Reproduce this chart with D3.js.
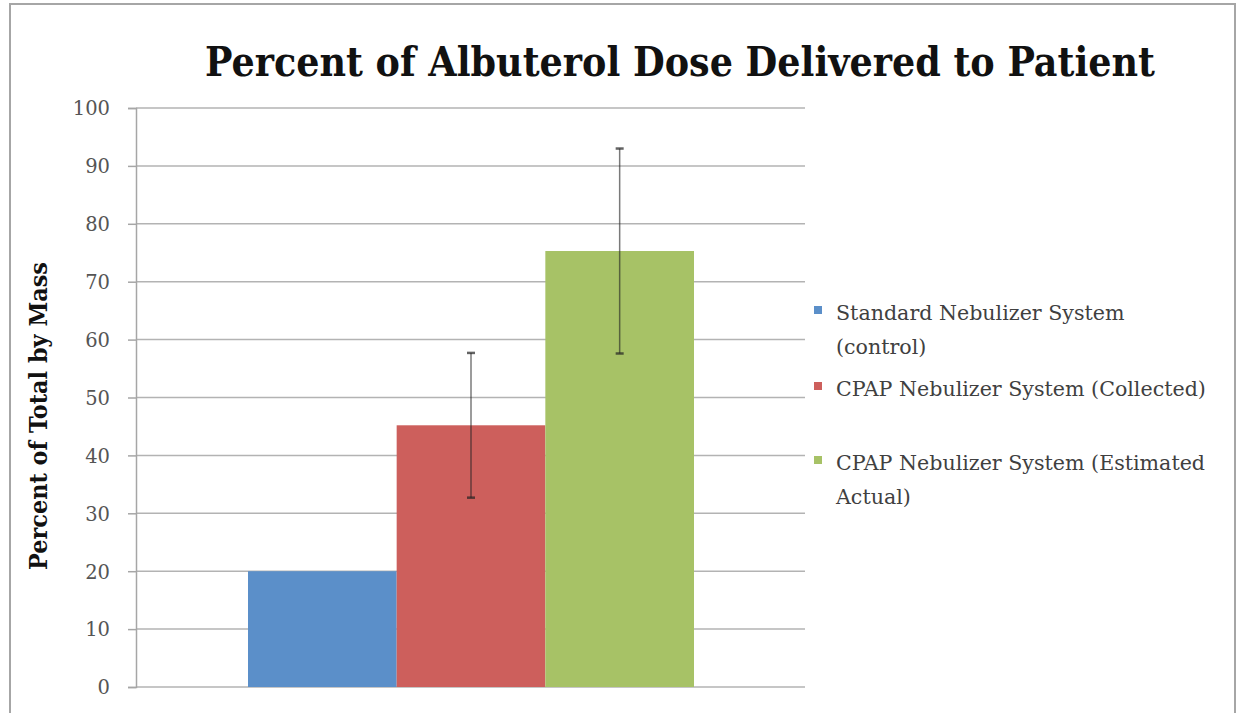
<!DOCTYPE html>
<html>
<head>
<meta charset="utf-8">
<script src="https://cdn.jsdelivr.net/npm/d3@7"></script>
<style>
  body { margin: 0; background: #fff; }
</style>
</head>
<body>
<div class="container"></div>
<script>
// chart data
var seriesNames = ['Standard Nebulizer System (control)', 'CPAP Nebulizer System (Collected)', 'CPAP Nebulizer System (Estimated Actual)'];
var seriesValues = [20, 45.2, 75.3];
var seriesErrors = [0, 12.5, 17.7];
var seriesColors = ['#5b8fc9', '#cd5f5c', '#a7c266'];
var legendLines = [['Standard Nebulizer System', '(control)'], ['CPAP Nebulizer System (Collected)'], ['CPAP Nebulizer System (Estimated', 'Actual)']];
var yTicks = [0, 10, 20, 30, 40, 50, 60, 70, 80, 90, 100];

const WIDTH = 1239;
const HEIGHT = 713;
const PLOT = {left: 136, right: 805, top: 108, bottom: 687};
const SERIF = '"DejaVu Serif", serif';
const BOLD_SERIF = '"DejaVu Serif Condensed", "DejaVu Serif", serif';

var svg = d3.select('.container').append('svg')
	.attr('width', WIDTH)
	.attr('height', HEIGHT);

// outer frame
svg.append('rect')
	.attr('x', 10).attr('y', 4)
	.attr('width', 1225).attr('height', 716)
	.attr('fill', '#fff')
	.attr('stroke', '#a6a6a6').attr('stroke-width', 2);

// fit a text element to a target width by adjusting its font size
var fitWidth = function(sel, size, target){
	sel.attr('font-size', size);
	var w = sel.node().getComputedTextLength();
	var s = size * target / w;
	sel.attr('font-size', s);
	return s;
}

var xScale = d3.scaleBand()
	.domain(seriesNames)
	.range([248, 694]);

var yScale = d3.scaleLinear()
	.domain([0, 100])
	.range([PLOT.bottom, PLOT.top]);

// gridlines
svg.append('g').selectAll('line').data(yTicks)
	.enter().append('line')
	.attr('x1', PLOT.left).attr('x2', PLOT.right)
	.attr('y1', function(d){return yScale(d)})
	.attr('y2', function(d){return yScale(d)})
	.attr('stroke', '#b3b3b3').attr('stroke-width', 1.5);

// y axis
var yAxis = d3.axisLeft(yScale).tickValues(yTicks).tickSize(8).tickPadding(18);
var yG = svg.append('g')
	.attr('transform', 'translate(' + PLOT.left + ',0)')
	.call(yAxis);
yG.select('.domain').attr('stroke', '#a6a6a6').attr('stroke-width', 1.5);
yG.selectAll('.tick line').attr('stroke', '#a6a6a6').attr('stroke-width', 1.5);
yG.selectAll('.tick text')
	.attr('fill', '#555')
	.style('font-family', SERIF)
	.style('font-size', '19.5px')
	.attr('dy', '0.35em');

// bars
svg.append('g').selectAll('rect').data(seriesNames)
	.enter().append('rect')
	.attr('x', function(d){return xScale(d)})
	.attr('width', xScale.bandwidth())
	.attr('y', function(d, i){return yScale(seriesValues[i])})
	.attr('height', function(d, i){return yScale(0) - yScale(seriesValues[i])})
	.attr('fill', function(d, i){return seriesColors[i]});

// error bars
var errG = svg.append('g').selectAll('g').data(seriesNames)
	.enter().append('g')
	.filter(function(d, i){return seriesErrors[i] > 0});
errG.each(function(d){
	var i = seriesNames.indexOf(d);
	var cx = xScale(d) + xScale.bandwidth() / 2;
	var lo = yScale(seriesValues[i] - seriesErrors[i]);
	var hi = yScale(seriesValues[i] + seriesErrors[i]);
	var g = d3.select(this);
	g.append('line').attr('x1', cx).attr('x2', cx).attr('y1', hi).attr('y2', lo)
		.attr('stroke', '#222').attr('stroke-opacity', 0.6).attr('stroke-width', 1.5);
	[hi, lo].forEach(function(y){
		g.append('line').attr('x1', cx - 4).attr('x2', cx + 4).attr('y1', y).attr('y2', y)
			.attr('stroke', '#222').attr('stroke-opacity', 0.7).attr('stroke-width', 2.5);
	});
});

// title
var title = svg.append('text')
	.attr('x', 680).attr('y', 76)
	.attr('text-anchor', 'middle')
	.attr('font-family', BOLD_SERIF)
	.attr('font-stretch', 'condensed')
	.attr('font-weight', 'bold')
	.attr('fill', '#111')
	.text('Percent of Albuterol Dose Delivered to Patient');
fitWidth(title, 40, 950);

// y axis title
var yTitle = svg.append('text')
	.attr('transform', 'translate(47,416) rotate(-90)')
	.attr('text-anchor', 'middle')
	.attr('font-family', BOLD_SERIF)
	.attr('font-stretch', 'condensed')
	.attr('font-weight', 'bold')
	.attr('fill', '#111')
	.text('Percent of Total by Mass');
fitWidth(yTitle, 17, 308);

// legend
var legendTop = [320, 396, 470];
var legend = svg.append('g').selectAll('g').data(seriesNames)
	.enter().append('g');
legend.append('rect')
	.attr('x', 814).attr('width', 8).attr('height', 8)
	.attr('y', function(d, i){return legendTop[i] - 14})
	.attr('fill', function(d, i){return seriesColors[i]});
var legendText = legend.append('text')
	.attr('font-family', SERIF)
	.attr('fill', '#404040')
	.attr('font-size', 19);
legendText.selectAll('tspan').data(function(d, i){return legendLines[i].map(function(t){return {t: t, i: i}})})
	.enter().append('tspan')
	.attr('x', 836)
	.attr('y', function(d, j){return legendTop[d.i] + j * 34})
	.text(function(d){return d.t});
// size legend so the longest line matches the reference width
var probe = svg.append('text').attr('font-family', SERIF).text(legendLines[1][0]);
var legendSize = fitWidth(probe, 19, 370);
probe.remove();
legendText.attr('font-size', legendSize);
</script>
</body>
</html>
